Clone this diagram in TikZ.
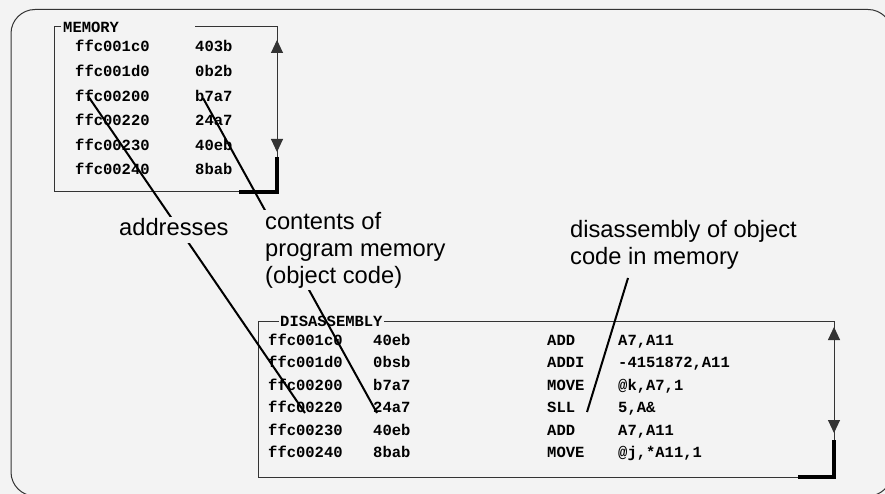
\documentclass[tikz,border=0pt]{standalone}
\usepackage{fontspec}
\newfontfamily\monof{Liberation Mono}
\newfontfamily\sansf{Liberation Sans}
\usetikzlibrary{arrows.meta}
\definecolor{bg}{HTML}{F3F3F3}
\definecolor{framec}{HTML}{333333}
\begin{document}
\begin{tikzpicture}[x=1pt,y=-1pt,
  code/.style={font={\monof\bfseries\fontsize{15.5}{18}\selectfont}, anchor=base west, inner sep=0pt, text=black},
  boxtitle/.style={font={\monof\bfseries\fontsize{15.5}{18}\selectfont}, anchor=base west, inner xsep=1pt, inner ysep=1pt, fill=bg, text=black},
  boxline/.style={draw=framec, line width=1pt},
  heavy/.style={draw=black, line width=4pt},
  leader/.style={draw=black, line width=2pt},
  lbl/.style={font={\sansf\fontsize{23.7}{27}\selectfont}, align=left, fill=bg, inner sep=2pt, text=black},
  dimline/.style={draw=framec, line width=1pt, {Triangle[width=12pt,length=13pt]}-{Triangle[width=12pt,length=13pt]}}]
\useasboundingbox (0,0) rectangle (885,494);
\fill[bg] (0,0) rectangle (885,494);
\clip (0,0) rectangle (885,494);
\draw[draw=framec, line width=1pt, fill=bg, rounded corners=24pt] (11,9.5) rectangle (892,496);

% ---------- MEMORY box ----------
\coordinate (mA) at (61,27);
\coordinate (mTL) at (54,27);
\coordinate (mBL) at (54,192);
\coordinate (mBH) at (239,192);
\coordinate (mB) at (195,27);
\coordinate (mTR) at (277,27);
\coordinate (mRH) at (277,157);
\coordinate (mUp) at (277,40);
\coordinate (mDn) at (277,152);
\coordinate (mBR) at (277,192);
\draw[boxline] (mA) -- (mTL) -- (mBL) -- (mBH);
\draw[boxline] (mB) -- (mTR) -- (mRH);
\draw[dimline] (mUp) -- (mDn);
\draw[heavy] (mRH) -- (mBR) -- (mBH);
\node[code] (mtitle) at (63,33) {MEMORY};

\node[code] (ma0) at (75,52)    {ffc001c0}; \node[code] (mc0) at (195,52)    {403b};
\node[code] (ma1) at (75,76.6)  {ffc001d0}; \node[code] (mc1) at (195,76.6)  {0b2b};
\node[code] (ma2) at (75,101.2) {ffc00200}; \node[code] (mc2) at (195,101.2) {b7a7};
\node[code] (ma3) at (75,125.8) {ffc00220}; \node[code] (mc3) at (195,125.8) {24a7};
\node[code] (ma4) at (75,150.4) {ffc00230}; \node[code] (mc4) at (195,150.4) {40eb};
\node[code] (ma5) at (75,175)   {ffc00240}; \node[code] (mc5) at (195,175)   {8bab};

% ---------- DISASSEMBLY box ----------
\coordinate (dTL) at (258,321);
\coordinate (dBL) at (258,477);
\coordinate (dBH) at (798,477);
\coordinate (dTR) at (834,321);
\coordinate (dRH) at (834,440);
\coordinate (dUp) at (834,327);
\coordinate (dDn) at (834,433);
\coordinate (dBR) at (834,477);
\draw[boxline] (dTR) -- (dTL) -- (dBL) -- (dBH);
\draw[boxline] (dTR) -- (dRH);
\draw[dimline] (dUp) -- (dDn);
\draw[heavy] (dRH) -- (dBR) -- (dBH);
\node[boxtitle] (dtitle) at (279,326) {DISASSEMBLY};

\node[code] (da0) at (268,345.5) {ffc001c0}; \node[code] (dc0) at (373,345.5) {40eb};
\node[code] (dm0) at (547,345.5) {ADD};  \node[code] (do0) at (618,345.5) {A7,A11};
\node[code] (da1) at (268,367.9) {ffc001d0}; \node[code] (dc1) at (373,367.9) {0bsb};
\node[code] (dm1) at (547,367.9) {ADDI}; \node[code] (do1) at (618,367.9) {-4151872,A11};
\node[code] (da2) at (268,390.3) {ffc00200}; \node[code] (dc2) at (373,390.3) {b7a7};
\node[code] (dm2) at (547,390.3) {MOVE}; \node[code] (do2) at (618,390.3) {@k,A7,1};
\node[code] (da3) at (268,412.7) {ffc00220}; \node[code] (dc3) at (373,412.7) {24a7};
\node[code] (dm3) at (547,412.7) {SLL};  \node[code] (do3) at (618,412.7) {5,A\&};
\node[code] (da4) at (268,435.1) {ffc00230}; \node[code] (dc4) at (373,435.1) {40eb};
\node[code] (dm4) at (547,435.1) {ADD};  \node[code] (do4) at (618,435.1) {A7,A11};
\node[code] (da5) at (268,457.5) {ffc00240}; \node[code] (dc5) at (373,457.5) {8bab};
\node[code] (dm5) at (547,457.5) {MOVE}; \node[code] (do5) at (618,457.5) {@j,*A11,1};

% ---------- leader lines ----------
\coordinate (a1) at (88,96);
\coordinate (a2) at (305,413);
\coordinate (c1) at (203,98);
\coordinate (c2) at (377,413);
\coordinate (s1) at (628,278);
\coordinate (s2) at (587,412);
\draw[leader] (a1) -- (a2);
\draw[leader] (c1) -- (c2);
\draw[leader] (s1) -- (s2);

% ---------- labels ----------
\node[lbl, anchor=base west, text depth=5pt] (laddr) at (117,236) {addresses};
\node[lbl, anchor=north west] (lcont) at (263,209.7) {contents of\\program memory\\(object code)};
\node[lbl, anchor=north west, fill=none] (ldis) at (568,217.7) {disassembly of object\\code in memory};
\end{tikzpicture}
\end{document}
